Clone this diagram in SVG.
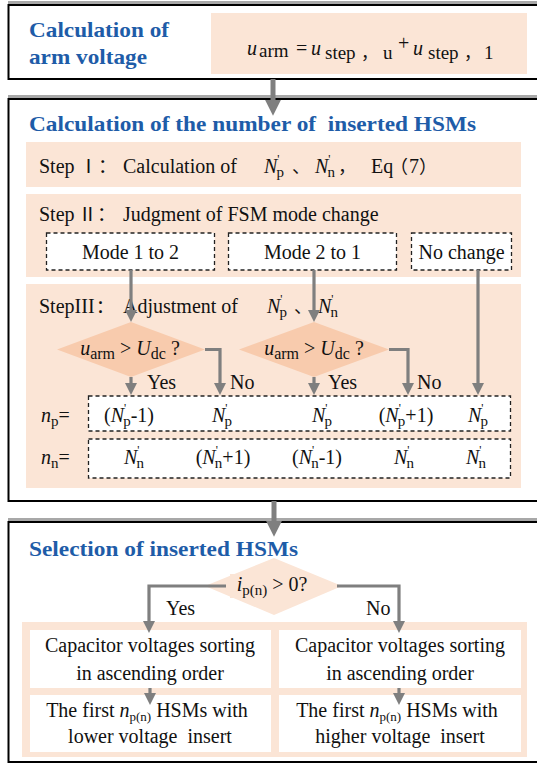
<svg xmlns="http://www.w3.org/2000/svg" width="537" height="766" viewBox="0 0 537 766">
<style>
.t{font-family:"Liberation Serif","Times New Roman",Tinos,serif;fill:#111;font-size:20px}
.k{font-family:"Noto Sans CJK SC","Noto Sans CJK JP",sans-serif}
.i{font-style:italic}
.h{font-family:"Liberation Serif","Times New Roman",Tinos,serif;font-weight:bold;fill:#1E5CA8;font-size:21px}
.outer{fill:#fff;stroke:#000;stroke-width:2}
.shadow{stroke:#A8A8A8;stroke-width:3;fill:none}
.peach{fill:#FBE5D6}
.dia{fill:#F8CBAD}
.dash{fill:#fff;stroke:#222;stroke-width:1.3;stroke-dasharray:4 3}
.wbox{fill:#fff}
.c{stroke:#7F7F7F;stroke-width:3.2;fill:none;marker-end:url(#a)}
.C{stroke:#7F7F7F;stroke-width:5;fill:none;marker-end:url(#A)}
</style>
<defs>
<marker id="a" viewBox="0 0 10 10" refX="2" refY="5" markerWidth="12" markerHeight="12" markerUnits="userSpaceOnUse" orient="auto"><path d="M0,0 L10,5 L0,10 z" fill="#7F7F7F"/></marker>
<marker id="A" viewBox="0 0 10 10" refX="2" refY="5" markerWidth="16" markerHeight="17" markerUnits="userSpaceOnUse" orient="auto"><path d="M0,0 L10,5 L0,10 z" fill="#7F7F7F"/></marker>
</defs>
<rect width="537" height="766" fill="#fff"/>

<g id="arm-voltage">
<line class="shadow" x1="8" y1="2.5" x2="537" y2="2.5"/>
<rect class="outer" x="8.5" y="5" width="540" height="74"/>
<text class="h" x="29" y="37" textLength="140" lengthAdjust="spacingAndGlyphs">Calculation of</text>
<text class="h" x="29" y="64" textLength="118" lengthAdjust="spacingAndGlyphs">arm voltage</text>
<rect class="peach" x="211" y="13" width="316" height="61"/>
<text class="t" font-size="22"><tspan class="i" x="247" y="55">u</tspan><tspan font-size="19" x="259" y="57">arm</tspan><tspan x="296" y="55">=</tspan><tspan class="i" x="311" y="55">u</tspan><tspan font-size="19" x="325" y="59">step</tspan><tspan class="k" font-size="17" x="361" y="59">，</tspan><tspan font-size="19" x="383" y="59">u</tspan><tspan x="398" y="50">+</tspan><tspan class="i" x="413" y="55">u</tspan><tspan font-size="19" x="428" y="59">step</tspan><tspan class="k" font-size="17" x="464" y="59">，</tspan><tspan font-size="19" x="484" y="59">1</tspan></text>
</g>

<g id="hsm-number">
<line class="shadow" x1="8" y1="96.5" x2="537" y2="96.5"/>
<rect class="outer" x="8.5" y="99" width="540" height="402"/>
<text class="h" x="29" y="131" textLength="447" lengthAdjust="spacingAndGlyphs">Calculation of the number of&#160; inserted HSMs</text>
</g>

<g id="step1">
<rect class="peach" x="26" y="142" width="495" height="45"/>
<text class="t" y="173"><tspan x="39">Step</tspan><tspan class="k" x="79" font-size="19">Ⅰ：</tspan><tspan x="123">Calculation of</tspan><tspan class="i" x="264">N</tspan><tspan font-size="12" dy="-10">'</tspan><tspan font-size="15" dx="-3" dy="14">p</tspan><tspan class="k" x="292" dy="-4" font-size="18">、</tspan><tspan class="i" x="315">N</tspan><tspan font-size="12" dy="-10">'</tspan><tspan font-size="15" dx="-3" dy="14">n</tspan><tspan class="k" x="338" dy="-4" font-size="18">，</tspan><tspan x="371">Eq</tspan><tspan class="k" x="390" font-size="18">（</tspan><tspan x="409">7</tspan><tspan class="k" x="419" font-size="18">）</tspan></text>
</g>

<g id="step2">
<rect class="peach" x="26" y="194" width="495" height="83"/>
<text class="t" y="221"><tspan x="39">Step</tspan><tspan class="k" x="78" font-size="19">Ⅱ：</tspan><tspan x="123">Judgment of FSM mode change</tspan></text>
</g>

<g id="mode12">
<rect class="dash" x="46.5" y="233" width="168" height="37"/>
<text class="t" x="130.5" y="259" text-anchor="middle">Mode 1 to 2</text>
</g>
<g id="mode21">
<rect class="dash" x="228.5" y="233" width="168" height="37"/>
<text class="t" x="312.5" y="259" text-anchor="middle">Mode 2 to 1</text>
</g>
<g id="nochange">
<rect class="dash" x="411.5" y="233" width="100" height="37"/>
<text class="t" x="461.5" y="259" text-anchor="middle">No change</text>
</g>

<g id="step3">
<rect class="peach" x="26" y="284" width="495" height="204"/>
<text class="t" y="313"><tspan x="39">StepIII</tspan><tspan class="k" x="96" font-size="18">：</tspan><tspan x="123">Adjustment of</tspan><tspan class="i" x="267">N</tspan><tspan font-size="12" dy="-10">'</tspan><tspan font-size="15" dx="-3" dy="14">p</tspan><tspan class="k" x="294" dy="-4" font-size="18">、</tspan><tspan class="i" x="318">N</tspan><tspan font-size="12" dy="-10">'</tspan><tspan font-size="15" dx="-3" dy="14">n</tspan></text>
</g>

<g id="decision1">
<polygon class="dia" points="131,322 205,349.5 131,377 57,349.5"/>
<text class="t" x="130" y="355" text-anchor="middle"><tspan class="i">u</tspan><tspan font-size="16" dy="4">arm</tspan><tspan dy="-4"> &gt; </tspan><tspan class="i">U</tspan><tspan font-size="16" dy="4">dc</tspan><tspan dy="-4"> ?</tspan></text>
</g>
<g id="decision2">
<polygon class="dia" points="314,322 389,349.5 314,377 239,349.5"/>
<text class="t" x="314" y="355" text-anchor="middle"><tspan class="i">u</tspan><tspan font-size="16" dy="4">arm</tspan><tspan dy="-4"> &gt; </tspan><tspan class="i">U</tspan><tspan font-size="16" dy="4">dc</tspan><tspan dy="-4"> ?</tspan></text>
</g>

<g id="np-row">
<rect class="dash" x="88.5" y="396" width="422" height="35"/>
<text class="t" x="41" y="422"><tspan class="i">n</tspan><tspan font-size="15" dy="4">p</tspan><tspan dy="-4">=</tspan></text>
<text class="t" x="129" y="422" text-anchor="middle">(<tspan class="i">N</tspan><tspan font-size="12" dy="-10">'</tspan><tspan font-size="15" dx="-3" dy="14">p</tspan><tspan dy="-4">-1)</tspan></text>
<text class="t" x="222" y="422" text-anchor="middle"><tspan class="i">N</tspan><tspan font-size="12" dy="-10">'</tspan><tspan font-size="15" dx="-3" dy="14">p</tspan></text>
<text class="t" x="322" y="422" text-anchor="middle"><tspan class="i">N</tspan><tspan font-size="12" dy="-10">'</tspan><tspan font-size="15" dx="-3" dy="14">p</tspan></text>
<text class="t" x="406" y="422" text-anchor="middle">(<tspan class="i">N</tspan><tspan font-size="12" dy="-10">'</tspan><tspan font-size="15" dx="-3" dy="14">p</tspan><tspan dy="-4">+1)</tspan></text>
<text class="t" x="478" y="422" text-anchor="middle"><tspan class="i">N</tspan><tspan font-size="12" dy="-10">'</tspan><tspan font-size="15" dx="-3" dy="14">p</tspan></text>
</g>

<g id="nn-row">
<rect class="dash" x="88.5" y="439" width="422" height="39"/>
<text class="t" x="41" y="464"><tspan class="i">n</tspan><tspan font-size="15" dy="4">n</tspan><tspan dy="-4">=</tspan></text>
<text class="t" x="134" y="464" text-anchor="middle"><tspan class="i">N</tspan><tspan font-size="12" dy="-10">'</tspan><tspan font-size="15" dx="-3" dy="14">n</tspan></text>
<text class="t" x="223" y="464" text-anchor="middle">(<tspan class="i">N</tspan><tspan font-size="12" dy="-10">'</tspan><tspan font-size="15" dx="-3" dy="14">n</tspan><tspan dy="-4">+1)</tspan></text>
<text class="t" x="317" y="464" text-anchor="middle">(<tspan class="i">N</tspan><tspan font-size="12" dy="-10">'</tspan><tspan font-size="15" dx="-3" dy="14">n</tspan><tspan dy="-4">-1)</tspan></text>
<text class="t" x="404" y="464" text-anchor="middle"><tspan class="i">N</tspan><tspan font-size="12" dy="-10">'</tspan><tspan font-size="15" dx="-3" dy="14">n</tspan></text>
<text class="t" x="476" y="464" text-anchor="middle"><tspan class="i">N</tspan><tspan font-size="12" dy="-10">'</tspan><tspan font-size="15" dx="-3" dy="14">n</tspan></text>
</g>

<g id="selection">
<line class="shadow" x1="8" y1="519.5" x2="537" y2="519.5"/>
<rect class="outer" x="8.5" y="522" width="540" height="240"/>
<text class="h" x="29" y="556" textLength="269" lengthAdjust="spacingAndGlyphs">Selection of inserted HSMs</text>
<rect class="peach" x="22" y="622" width="505" height="135"/>
</g>

<g id="decision3">
<polygon class="peach" points="274,558 342,586 274,615 205,586"/>
</g>

<g id="sort-asc-left">
<rect class="wbox" x="30" y="630" width="241" height="58"/>
<text class="t" x="150" y="652" text-anchor="middle">Capacitor voltages sorting</text>
<text class="t" x="150" y="680" text-anchor="middle">in ascending order</text>
</g>
<g id="sort-asc-right">
<rect class="wbox" x="279" y="630" width="242" height="58"/>
<text class="t" x="400" y="652" text-anchor="middle">Capacitor voltages sorting</text>
<text class="t" x="400" y="680" text-anchor="middle">in ascending order</text>
</g>
<g id="insert-lower">
<rect class="wbox" x="30" y="695" width="241" height="57"/>
<text class="t" x="147" y="717" text-anchor="middle">The first <tspan class="i">n</tspan><tspan font-size="13" dy="4">p(n)</tspan><tspan dy="-4"> HSMs with</tspan></text>
<text class="t" x="150" y="743" text-anchor="middle">lower voltage&#160; insert</text>
</g>
<g id="insert-higher">
<rect class="wbox" x="279" y="695" width="242" height="57"/>
<text class="t" x="397" y="717" text-anchor="middle">The first <tspan class="i">n</tspan><tspan font-size="13" dy="4">p(n)</tspan><tspan dy="-4"> HSMs with</tspan></text>
<text class="t" x="400" y="743" text-anchor="middle">higher voltage&#160; insert</text>
</g>

<g id="connectors">
<path class="C" d="M273,79 V103"/>
<path class="C" d="M274,501 V524"/>
<path class="c" d="M131,270 V312.4"/>
<path class="c" d="M314,270 V312.4"/>
<path class="c" d="M478,270 V385.4"/>
<path class="c" d="M131,377 V385.4"/>
<path class="c" d="M205,349.5 H220 V385.4"/>
<path class="c" d="M314,377 V385.4"/>
<path class="c" d="M389,349.5 H408 V385.4"/>
<path class="c" d="M226,586 H149 V623.4"/>
<path class="c" d="M337,586 H399 V623.4"/>
<path class="c" d="M150,688 V695.4"/>
<path class="c" d="M399,688 V695.4"/>
</g>

<g id="labels">
<text class="t" x="147" y="389" font-size="21">Yes</text>
<text class="t" x="230" y="389" font-size="21">No</text>
<text class="t" x="328" y="389" font-size="21">Yes</text>
<text class="t" x="417" y="389" font-size="21">No</text>
<text class="t" x="166" y="615" font-size="21">Yes</text>
<text class="t" x="366" y="615" font-size="21">No</text>
<rect x="230" y="574" width="82" height="24" fill="#FBE5D6"/>
<text class="t" x="272" y="591" text-anchor="middle"><tspan class="i">i</tspan><tspan font-size="15" dy="4">p(n)</tspan><tspan dy="-4"> &gt; 0?</tspan></text>
</g>
</svg>
